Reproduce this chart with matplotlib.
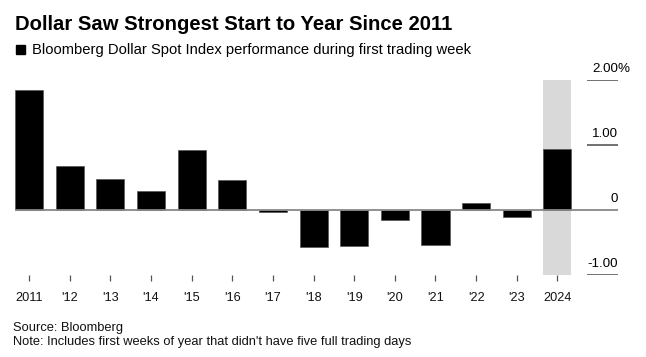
import numpy as np
import matplotlib
matplotlib.use('Agg')
import matplotlib.pyplot as plt
import matplotlib.transforms as mtransforms

plt.rcParams['font.family'] = ['Liberation Sans', 'DejaVu Sans']

years = ['2011', "'12", "'13", "'14", "'15", "'16", "'17", "'18",
         "'19", "'20", "'21", "'22", "'23", '2024']
perf = [1.84, 0.68, 0.48, 0.29, 0.92, 0.46, -0.03, -0.57,
        -0.56, -0.15, -0.54, 0.10, -0.11, 0.93]
yticks = [2, 1, 0, -1]
ylabels = ['2.00', '1.00', '0', '-1.00']

W, H = 646, 357
fig = plt.figure(figsize=(W / 100, H / 100), dpi=100)

# axes box in pixels: x 15..618, y 79.5 (2.0) .. 275 (-1.0)
ax = fig.add_axes([15 / W, 1 - 275 / H, 603 / W, 195.5 / H])
x = np.arange(len(years))
bw = 0.69
xl, xr = -0.345, 14.49
ax.set_xlim(xl, xr)
ax.set_ylim(-1, 2)

# highlight for current year
ax.axvspan(x[-1] - bw / 2, x[-1] + bw / 2, color='#d9d9d9', zorder=0, lw=0)
ax.bar(x, perf, width=bw, color='black', edgecolor='#555555', linewidth=0.5, zorder=2)
ax.axhline(0, color='#888888', lw=1.3, zorder=3)

# short gridline stubs on the right with labels
for yv, lab in zip(yticks, ylabels):
    if yv != 0:
        ax.hlines(yv, 13.73, xr, color='#666666', lw=1.3, zorder=3)
    tr = mtransforms.offset_copy(ax.transData, fig=fig, x=0, y=5.6, units='points')
    ax.text(xr, yv, lab, ha='right', va='baseline', fontsize=9.6, color='black',
            transform=tr, clip_on=False)
    if yv == 2:
        ax.text(xr, yv, '%', ha='left', va='baseline', fontsize=9.6, color='black',
                transform=tr, clip_on=False)

for s in ax.spines.values():
    s.set_visible(False)
ax.set_yticks([])
ax.set_xticks(x)
ax.set_xticklabels(years, fontsize=9.2, color='#111111')
ax.tick_params(axis='x', length=4, width=0.9, color='#555555', pad=8.5)

fig.text(15 / W, 1 - 30 / H, 'Dollar Saw Strongest Start to Year Since 2011',
         fontsize=14.6, fontweight='bold', va='baseline', ha='left')
fig.patches.append(plt.Rectangle((16 / W, 1 - 54 / H), 9 / W, 8.5 / H,
                                 transform=fig.transFigure, color='black'))
fig.text(31.5 / W, 1 - 54.3 / H,
         'Bloomberg Dollar Spot Index performance during first trading week',
         fontsize=10.6, va='baseline', ha='left')
fig.text(13.3 / W, 1 - 330.7 / H, 'Source: Bloomberg', fontsize=9.3,
         va='baseline', ha='left', color='#111111')
fig.text(13.3 / W, 1 - 345 / H,
         "Note: Includes first weeks of year that didn't have five full trading days",
         fontsize=9.3, va='baseline', ha='left', color='#111111')

fig.savefig('out.png', dpi=100)
